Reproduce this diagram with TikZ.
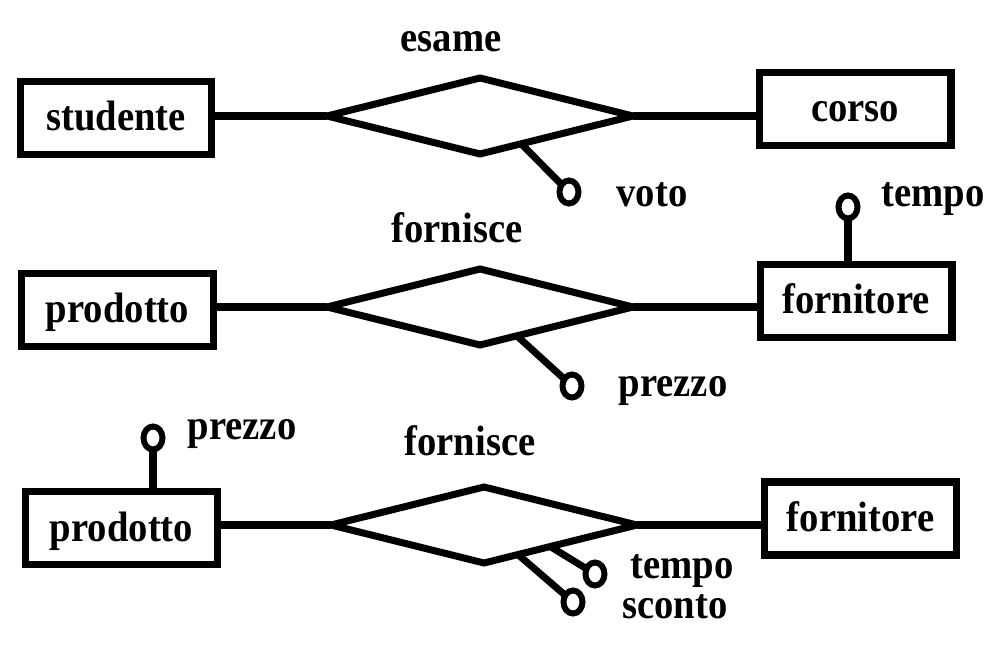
\documentclass[tikz,border=0pt]{standalone}
\usepackage{fontspec}
\setmainfont{Liberation Serif}
\usepackage{graphicx}
\usetikzlibrary{shapes.geometric}
\newcommand{\tall}[1]{\scalebox{1}[1.1]{#1}}

\begin{document}
\begin{tikzpicture}
  [x=0.02cm,y=-0.02cm,line width=4pt,
   every node/.style={font=\fontsize{22}{26}\selectfont\bfseries},
   entity/.style={draw,rectangle,minimum width=3.84cm,minimum height=1.46cm,
     text height=0.58cm,text depth=0.06cm,inner sep=0pt,outer sep=0pt},
   relation/.style={draw,diamond,minimum width=6.12cm,minimum height=1.52cm,
     inner sep=0pt,outer sep=0pt},
   attr/.style={draw,ellipse,line width=3.4pt,minimum width=0.38cm,
     minimum height=0.46cm,inner sep=0pt,outer sep=0pt},
   lbl/.style={anchor=base,inner sep=0pt}]
  \useasboundingbox (0,0) rectangle (990,658);
  % esame
  \node[entity] (stud) at (116,118) {\tall{studente}};
  \node[entity] (cors) at (855,109) {\tall{corso}};
  \node[relation] (esame) at (480,116) {};
  \node[lbl] (lesame) at (451,52) {\tall{esame}};
  \node[attr] (voto) at (569,192) {};
  \node[lbl] (lvoto) at (652,207) {\tall{voto}};
  % fornisce, prezzo sulla relazione
  \node[entity] (prodA) at (117.5,310) {\tall{prodotto}};
  \node[entity] (fornA) at (856,301) {\tall{fornitore}};
  \node[relation] (fornisceA) at (480,307) {};
  \node[lbl] (lfornisceA) at (457,243) {\tall{fornisce}};
  \node[attr] (tempoA) at (848,207) {};
  \node[lbl] (ltempoA) at (933,207) {\tall{tempo}};
  \node[attr] (prezzoA) at (572,386) {};
  \node[lbl] (lprezzoA) at (673,397) {\tall{prezzo}};
  % fornisce, prezzo sul prodotto
  \node[entity] (prodB) at (121.5,528) {\tall{prodotto}};
  \node[entity] (fornB) at (860.5,518.5) {\tall{fornitore}};
  \node[relation] (fornisceB) at (484,525) {};
  \node[lbl] (lfornisceB) at (470,455) {\tall{fornisce}};
  \node[attr] (prezzoB) at (153,438) {};
  \node[lbl] (lprezzoB) at (242,439) {\tall{prezzo}};
  \node[attr] (tempoB) at (595,574) {};
  \node[lbl] (ltempoB) at (682,578) {\tall{tempo}};
  \node[attr] (scontoB) at (573,602) {};
  \node[lbl] (lscontoB) at (675,618) {\tall{sconto}};
  \begin{scope}
    \foreach \r/\a/\b in {esame/stud/cors,fornisceA/prodA/fornA,fornisceB/prodB/fornB}
    {\draw (\r.west) -- (\r.west -| \a.east);
     \draw (\r.east) -- (\r.east -| \b.west);}
    \foreach \from/\to in {esame.-34/voto,fornisceA.-38/prezzoA,
      fornisceB.-18/tempoB,fornisceB.-41/scontoB}
    \draw (\from) -- (\to);
    \draw (tempoA) -- (tempoA |- fornA.north);
    \draw (prezzoB) -- (prezzoB |- prodB.north);
  \end{scope}
\end{tikzpicture}
\end{document}
